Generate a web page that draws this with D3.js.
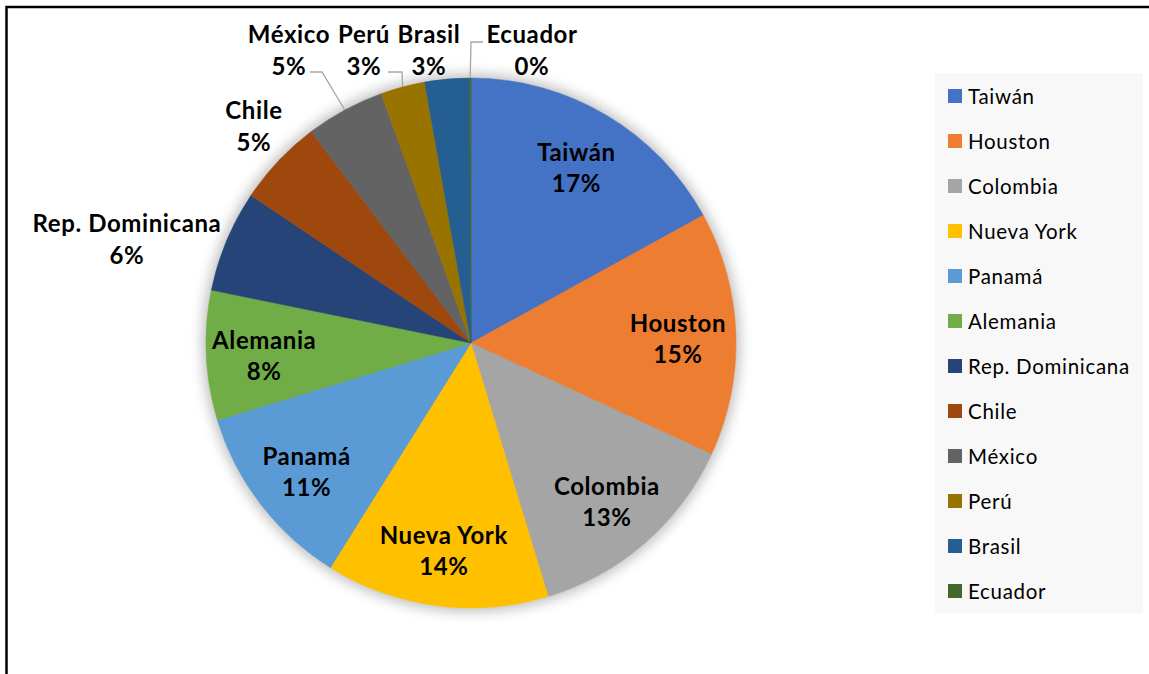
<!DOCTYPE html>
<html><head><meta charset="utf-8">
<script src="https://cdn.jsdelivr.net/npm/d3@7"></script>
<style>body{margin:0;background:#fff}svg{display:block}</style>
</head><body><svg id="c" width="1149" height="674"></svg>
<script>
// ---- data ----
const categories = ["Taiwán","Houston","Colombia","Nueva York","Panamá","Alemania","Rep. Dominicana","Chile","México","Perú","Brasil","Ecuador"];
const values = [17.0, 14.9, 13.4, 13.6, 11.4, 7.9, 6.2, 5.3, 4.8, 2.7, 2.7, 0.1];
const colors = ["#4472C4","#ED7D31","#A5A5A5","#FFC000","#5B9BD5","#70AD47","#264478","#9E480E","#636363","#997300","#255E91","#43682B"];

// ---- layout (label placement for outside labels) ----
const outsideLabels = {
  "Rep. Dominicana": {x:127, y:232, leader:null},
  "Chile":   {x:254, y:119, leader:null},
  "México":  {x:289, y:43, leader:[[322,72],[310,72]]},
  "Perú":    {x:364, y:43, leader:[[402,72],[388,72]]},
  "Brasil":  {x:429, y:43, leader:null},
  "Ecuador": {x:532, y:43, leader:[[471,42],[483,42]]}
};

const cx = 471, cy = 343, R = 265, labelR = 207;
const svg = d3.select("#c");

// border
svg.append("rect").attr("x",6.5).attr("y",7).attr("width",1200).attr("height",720)
  .attr("fill","#fff").attr("stroke","#000").attr("stroke-width",2.5);

const defs = svg.append("defs");
const f = defs.append("filter").attr("id","glow").attr("x","-20%").attr("y","-20%").attr("width","140%").attr("height","140%");
f.append("feGaussianBlur").attr("stdDeviation",7);

const data = categories.map((c,i)=>({name:c, value:values[i], color:colors[i]}));
const total = d3.sum(values);
const pct = d3.format(".0%");

const pie = d3.pie().value(d=>d.value).sort(null).startAngle(0).endAngle(2*Math.PI);
const arcs = pie(data);
const arc = d3.arc().innerRadius(0).outerRadius(R);
const labelArc = d3.arc().innerRadius(labelR).outerRadius(labelR);

const g = svg.append("g").attr("transform",`translate(${cx},${cy})`);
g.append("circle").attr("r",R+3).attr("fill","#000").attr("opacity",0.28).attr("filter","url(#glow)");

g.selectAll("path.slice").data(arcs).join("path").attr("class","slice")
  .attr("d",arc).attr("fill",d=>d.data.color).attr("stroke",d=>d.data.color).attr("stroke-width",0.5);

const font = "Lato, 'Open Sans', sans-serif";
const LFS = 24, LLS = 0.6;

// inside labels
arcs.filter(d=>!outsideLabels[d.data.name]).forEach(d=>{
  const [x,y] = labelArc.centroid(d);
  const t = g.append("text").attr("text-anchor","middle").attr("font-family",font)
    .attr("font-weight","bold").attr("font-size",LFS).attr("letter-spacing",LLS).attr("fill","#000");
  t.append("tspan").attr("x",x).attr("y",y-4).text(d.data.name);
  t.append("tspan").attr("x",x).attr("y",y+27).text(pct(d.data.value/total));
});

// outside labels + leaders
arcs.filter(d=>outsideLabels[d.data.name]).forEach(d=>{
  const L = outsideLabels[d.data.name];
  if (L.leader) {
    const mid = (d.startAngle+d.endAngle)/2;
    const p0 = [cx + R*Math.sin(mid), cy - R*Math.cos(mid)];
    const pts = [p0].concat(L.leader);
    svg.append("path").attr("d",d3.line()(pts)).attr("fill","none")
      .attr("stroke","#A6A6A6").attr("stroke-width",1.3);
  }
  const t = svg.append("text").attr("text-anchor","middle").attr("font-family",font)
    .attr("font-weight","bold").attr("font-size",LFS).attr("letter-spacing",LLS).attr("fill","#000");
  t.append("tspan").attr("x",L.x).attr("y",L.y).text(d.data.name);
  t.append("tspan").attr("x",L.x).attr("y",L.y+32).text(pct(d.data.value/total));
});

// legend
const lg = svg.append("g");
lg.append("rect").attr("x",935).attr("y",73).attr("width",208).attr("height",540).attr("fill","#F8F8F8");
const ly = d3.scalePoint().domain(categories).range([96, 591]);
const items = lg.selectAll("g.item").data(data).join("g").attr("class","item")
  .attr("transform",d=>`translate(948,${ly(d.name)})`);
items.append("rect").attr("x",0).attr("y",-7).attr("width",14).attr("height",14).attr("fill",d=>d.color);
items.append("text").attr("x",20).attr("y",7.5).attr("font-family",font).attr("font-size",20.5)
  .attr("letter-spacing",0.7).attr("fill","#000").text(d=>d.name);
</script></body></html>
